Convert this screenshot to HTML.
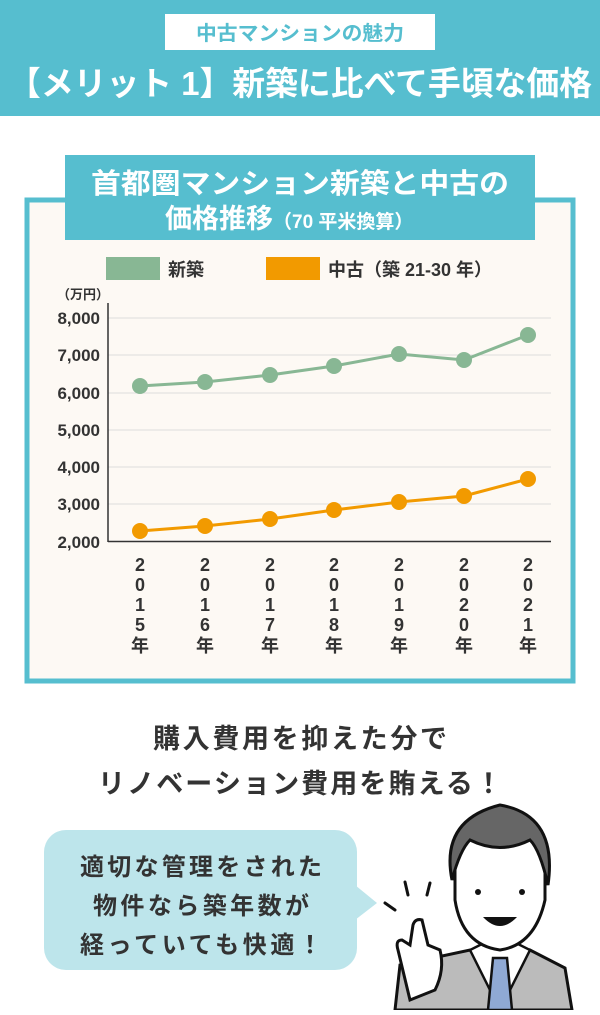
<!DOCTYPE html>
<html><head><meta charset="utf-8"><style>
body{margin:0;width:600px;height:1010px;overflow:hidden;background:#fff;font-family:"Liberation Sans","Noto Sans CJK JP",sans-serif;}
</style></head><body>
<svg width="600" height="1010" viewBox="0 0 600 1010" xmlns="http://www.w3.org/2000/svg" font-family="'Liberation Sans','Noto Sans CJK JP',sans-serif">
<rect x="0" y="0" width="600" height="116" fill="#56BECF"/>
<rect x="165" y="14" width="270" height="36" fill="#fff"/>
<text x="300" y="40" text-anchor="middle" font-size="20" font-weight="bold" fill="#56BECF" textLength="208" lengthAdjust="spacingAndGlyphs">中古マンションの魅力</text>
<text x="300" y="95" text-anchor="middle" font-size="33" font-weight="bold" fill="#fff" textLength="584" lengthAdjust="spacingAndGlyphs">【メリット 1】新築に比べて手頃な価格</text>

<rect x="27" y="200" width="546" height="481" fill="#FDF9F4" stroke="#56BECF" stroke-width="5"/>
<rect x="65" y="155" width="470" height="85" fill="#56BECF"/>
<text x="300" y="193" text-anchor="middle" font-size="28" font-weight="bold" fill="#fff" textLength="418" lengthAdjust="spacingAndGlyphs">首都圏マンション新築と中古の</text>
<text x="165" y="228" font-size="27" font-weight="bold" fill="#fff">価格推移<tspan font-size="19">（70 平米換算）</tspan></text>

<rect x="106" y="257" width="54" height="23" fill="#88B794"/>
<text x="168" y="276" font-size="18" font-weight="bold" fill="#333">新築</text>
<rect x="266" y="257" width="54" height="23" fill="#F29A00"/>
<text x="328" y="276" font-size="18" font-weight="bold" fill="#333">中古（築 21-30 年）</text>
<text x="57" y="299" font-size="13" font-weight="bold" fill="#333">（万円）</text>

<g stroke="#ddd" stroke-width="1">
<line x1="108" y1="318" x2="551" y2="318"/><line x1="108" y1="355" x2="551" y2="355"/>
<line x1="108" y1="393" x2="551" y2="393"/><line x1="108" y1="430" x2="551" y2="430"/>
<line x1="108" y1="467" x2="551" y2="467"/><line x1="108" y1="504" x2="551" y2="504"/>
</g>
<line x1="108" y1="303" x2="108" y2="542" stroke="#333" stroke-width="1.5"/>
<line x1="108" y1="541.5" x2="551" y2="541.5" stroke="#333" stroke-width="1.5"/>
<g font-size="17" font-weight="bold" fill="#333" text-anchor="end">
<text x="100" y="324">8,000</text><text x="100" y="361">7,000</text><text x="100" y="399">6,000</text>
<text x="100" y="436">5,000</text><text x="100" y="473">4,000</text><text x="100" y="510">3,000</text>
<text x="100" y="548">2,000</text>
</g>
<polyline points="140,386 205,382 270,375 334,366 399,354 464,360 528,335" fill="none" stroke="#88B794" stroke-width="3"/>
<g fill="#88B794">
<circle cx="140" cy="386" r="8"/><circle cx="205" cy="382" r="8"/><circle cx="270" cy="375" r="8"/><circle cx="334" cy="366" r="8"/><circle cx="399" cy="354" r="8"/><circle cx="464" cy="360" r="8"/><circle cx="528" cy="335" r="8"/>
</g>
<polyline points="140,531 205,526 270,519 334,510 399,502 464,496 528,479" fill="none" stroke="#F29A00" stroke-width="3"/>
<g fill="#F29A00">
<circle cx="140" cy="531" r="8"/><circle cx="205" cy="526" r="8"/><circle cx="270" cy="519" r="8"/><circle cx="334" cy="510" r="8"/><circle cx="399" cy="502" r="8"/><circle cx="464" cy="496" r="8"/><circle cx="528" cy="479" r="8"/>
</g>
<g font-size="18" font-weight="bold" fill="#333" text-anchor="middle">
<text x="140" y="571">2</text><text x="140" y="591">0</text><text x="140" y="611">1</text><text x="140" y="631">5</text><text x="140" y="652">年</text>
<text x="205" y="571">2</text><text x="205" y="591">0</text><text x="205" y="611">1</text><text x="205" y="631">6</text><text x="205" y="652">年</text>
<text x="270" y="571">2</text><text x="270" y="591">0</text><text x="270" y="611">1</text><text x="270" y="631">7</text><text x="270" y="652">年</text>
<text x="334" y="571">2</text><text x="334" y="591">0</text><text x="334" y="611">1</text><text x="334" y="631">8</text><text x="334" y="652">年</text>
<text x="399" y="571">2</text><text x="399" y="591">0</text><text x="399" y="611">1</text><text x="399" y="631">9</text><text x="399" y="652">年</text>
<text x="464" y="571">2</text><text x="464" y="591">0</text><text x="464" y="611">2</text><text x="464" y="631">0</text><text x="464" y="652">年</text>
<text x="528" y="571">2</text><text x="528" y="591">0</text><text x="528" y="611">2</text><text x="528" y="631">1</text><text x="528" y="652">年</text>
</g>

<text x="300" y="748" text-anchor="middle" font-size="27" font-weight="bold" fill="#333" textLength="294" lengthAdjust="spacing">購入費用を抑えた分で</text>
<text x="300" y="793" text-anchor="middle" font-size="27" font-weight="bold" fill="#333" textLength="404" lengthAdjust="spacing">リノベーション費用を賄える！</text>

<rect x="44" y="830" width="313" height="140" rx="22" fill="#BDE5EB"/>
<polygon points="355,885 377,903 355,920" fill="#BDE5EB"/>
<g font-size="24" font-weight="bold" fill="#333" text-anchor="middle">
<text x="201" y="875" textLength="242" lengthAdjust="spacing">適切な管理をされた</text>
<text x="201" y="914" textLength="216" lengthAdjust="spacing">物件なら築年数が</text>
<text x="201" y="953" textLength="242" lengthAdjust="spacing">経っていても快適！</text>
</g>

<g stroke="#111" stroke-width="3" stroke-linecap="round" fill="none">
<line x1="385" y1="903" x2="395" y2="910"/><line x1="405" y1="882" x2="408" y2="895"/><line x1="430" y1="883" x2="427" y2="895"/>
</g>
<path d="M395 1010 L400 965 L470 950 L500 985 L530 950 L565 968 L572 1010 Z" fill="#bbb" stroke="#111" stroke-width="3"/>
<path d="M470 950 L500 1010 L530 950 L510 940 L490 940 Z" fill="#fff" stroke="#111" stroke-width="2.5"/>
<path d="M493 958 L507 958 L512 1010 L488 1010 Z" fill="#8FA9D4" stroke="#111" stroke-width="2.5"/>
<path d="M455 860 Q452 825 500 818 Q548 825 545 860 L545 900 Q535 945 500 950 Q462 945 455 900 Z" fill="#fff" stroke="#111" stroke-width="3"/>
<path d="M452 880 Q440 820 500 805 Q558 815 548 885 Q540 850 530 840 Q500 855 470 840 Q460 850 452 880 Z" fill="#666" stroke="#111" stroke-width="3"/>
<circle cx="478" cy="892" r="3" fill="#111"/><circle cx="522" cy="892" r="3" fill="#111"/>
<path d="M483 917 Q500 935 517 917 Z" fill="#111"/>
<path d="M410 1000 L398 950 Q395 940 402 940 L410 945 L413 925 Q415 918 422 920 L428 945 L440 950 Q445 970 435 990 Z" fill="#fff" stroke="#111" stroke-width="3"/>
</svg>
</body></html>
